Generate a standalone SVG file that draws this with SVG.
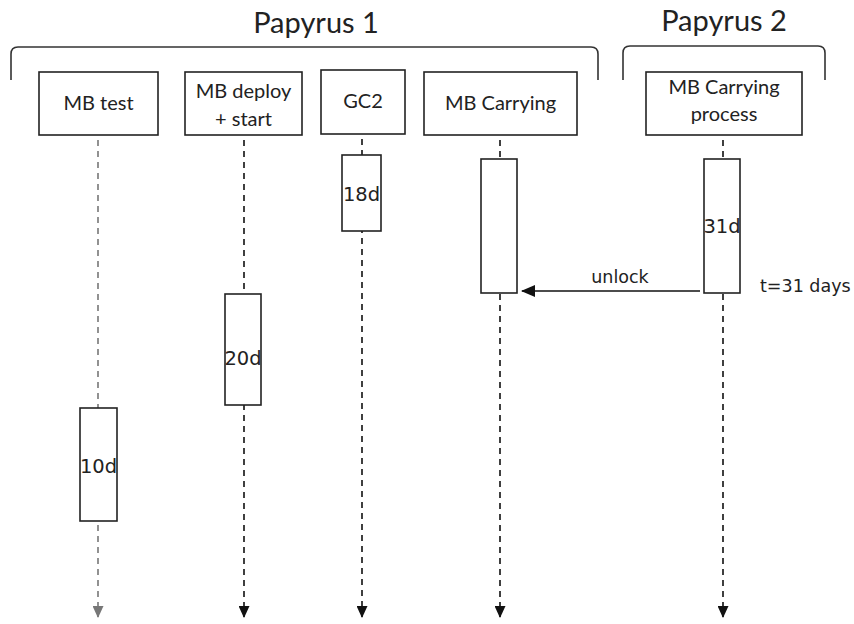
<svg xmlns="http://www.w3.org/2000/svg" width="854" height="624" viewBox="0 0 854 624">
<defs>
<style>
text{font-family:Lato,"Open Sans","Liberation Sans",sans-serif;fill:#222}
.t{font-size:29px}
.n{font-size:20px}
.d{font-family:"DejaVu Sans",Verdana,sans-serif;font-size:17.5px}
.a{font-family:"DejaVu Sans",Verdana,sans-serif;font-size:19.5px}
.box{fill:#fff;stroke:#222;stroke-width:1.6}
.life{stroke:#111;stroke-width:1.6;stroke-dasharray:6,5;fill:none}
.gray{stroke:#777}
.br{fill:none;stroke:#333;stroke-width:1.6}
</style>
<marker id="ah" markerWidth="12" markerHeight="11" refX="11" refY="5.5" orient="auto" markerUnits="userSpaceOnUse" viewBox="0 0 12 11">
<path d="M0,0 L12,5.5 L0,11 Z" fill="#111"/>
</marker>
<marker id="ahg" markerWidth="12" markerHeight="11" refX="11" refY="5.5" orient="auto" markerUnits="userSpaceOnUse" viewBox="0 0 12 11">
<path d="M0,0 L12,5.5 L0,11 Z" fill="#777"/>
</marker>
<marker id="al" markerWidth="14" markerHeight="12" refX="13" refY="6" orient="auto" markerUnits="userSpaceOnUse" viewBox="0 0 14 12">
<path d="M0,0 L14,6 L0,12 Z" fill="#111"/>
</marker>
</defs>
<g id="group1">
<text class="t" x="316" y="33" text-anchor="middle">Papyrus 1</text>
<path class="br" d="M11,80 L11,54 Q11,47 18,47 L591,47 Q598,47 598,54 L598,80"/>
</g>
<g id="group2">
<text class="t" x="724" y="31" text-anchor="middle">Papyrus 2</text>
<path class="br" d="M623,80 L623,53 Q623,46 630,46 L818,46 Q825,46 825,53 L825,80"/>
</g>
<g id="connectors">
<line class="life gray" x1="98" y1="140" x2="98" y2="617" marker-end="url(#ahg)"/>
<line class="life" x1="244" y1="140" x2="244" y2="617" marker-end="url(#ah)"/>
<line class="life" x1="362" y1="139" x2="362" y2="617" marker-end="url(#ah)"/>
<line class="life" x1="500" y1="140" x2="500" y2="617" marker-end="url(#ah)"/>
<line class="life" x1="723" y1="140" x2="723" y2="617" marker-end="url(#ah)"/>
<line x1="700" y1="291" x2="522" y2="291" stroke="#111" stroke-width="1.6" marker-end="url(#al)"/>
<text class="d" x="620" y="283" text-anchor="middle">unlock</text>
<text class="d" x="760" y="292">t=31 days</text>
</g>
<g id="mbtest">
<rect class="box" x="39" y="72" width="119" height="63"/>
<text class="n" x="98.5" y="110" text-anchor="middle">MB test</text>
</g>
<g id="mbdeploy">
<rect class="box" x="185" y="72" width="117" height="63"/>
<text class="n" x="243.5" y="98" text-anchor="middle">MB deploy</text>
<text class="n" x="243.5" y="126" text-anchor="middle">+ start</text>
</g>
<g id="gc2">
<rect class="box" x="321" y="70" width="84" height="64"/>
<text class="n" x="363" y="108" text-anchor="middle">GC2</text>
</g>
<g id="mbcarrying">
<rect class="box" x="424" y="72" width="153" height="63"/>
<text class="n" x="500.5" y="110" text-anchor="middle">MB Carrying</text>
</g>
<g id="mbcarryingprocess">
<rect class="box" x="646" y="72" width="156" height="63"/>
<text class="n" x="724" y="94" text-anchor="middle">MB Carrying</text>
<text class="n" x="724" y="121" text-anchor="middle">process</text>
</g>
<g id="act18">
<rect class="box" x="342" y="155" width="39" height="76"/>
<text class="a" x="361.5" y="201" text-anchor="middle">18d</text>
</g>
<g id="actcarry">
<rect class="box" x="481" y="159" width="36" height="134"/>
</g>
<g id="act31">
<rect class="box" x="704" y="159" width="36" height="134"/>
<text class="a" x="722" y="233" text-anchor="middle">31d</text>
</g>
<g id="act20">
<rect class="box" x="225" y="294" width="36" height="111"/>
<text class="a" x="243" y="365" text-anchor="middle">20d</text>
</g>
<g id="act10">
<rect class="box" x="80" y="408" width="37" height="113"/>
<text class="a" x="98.5" y="473" text-anchor="middle">10d</text>
</g>
</svg>
